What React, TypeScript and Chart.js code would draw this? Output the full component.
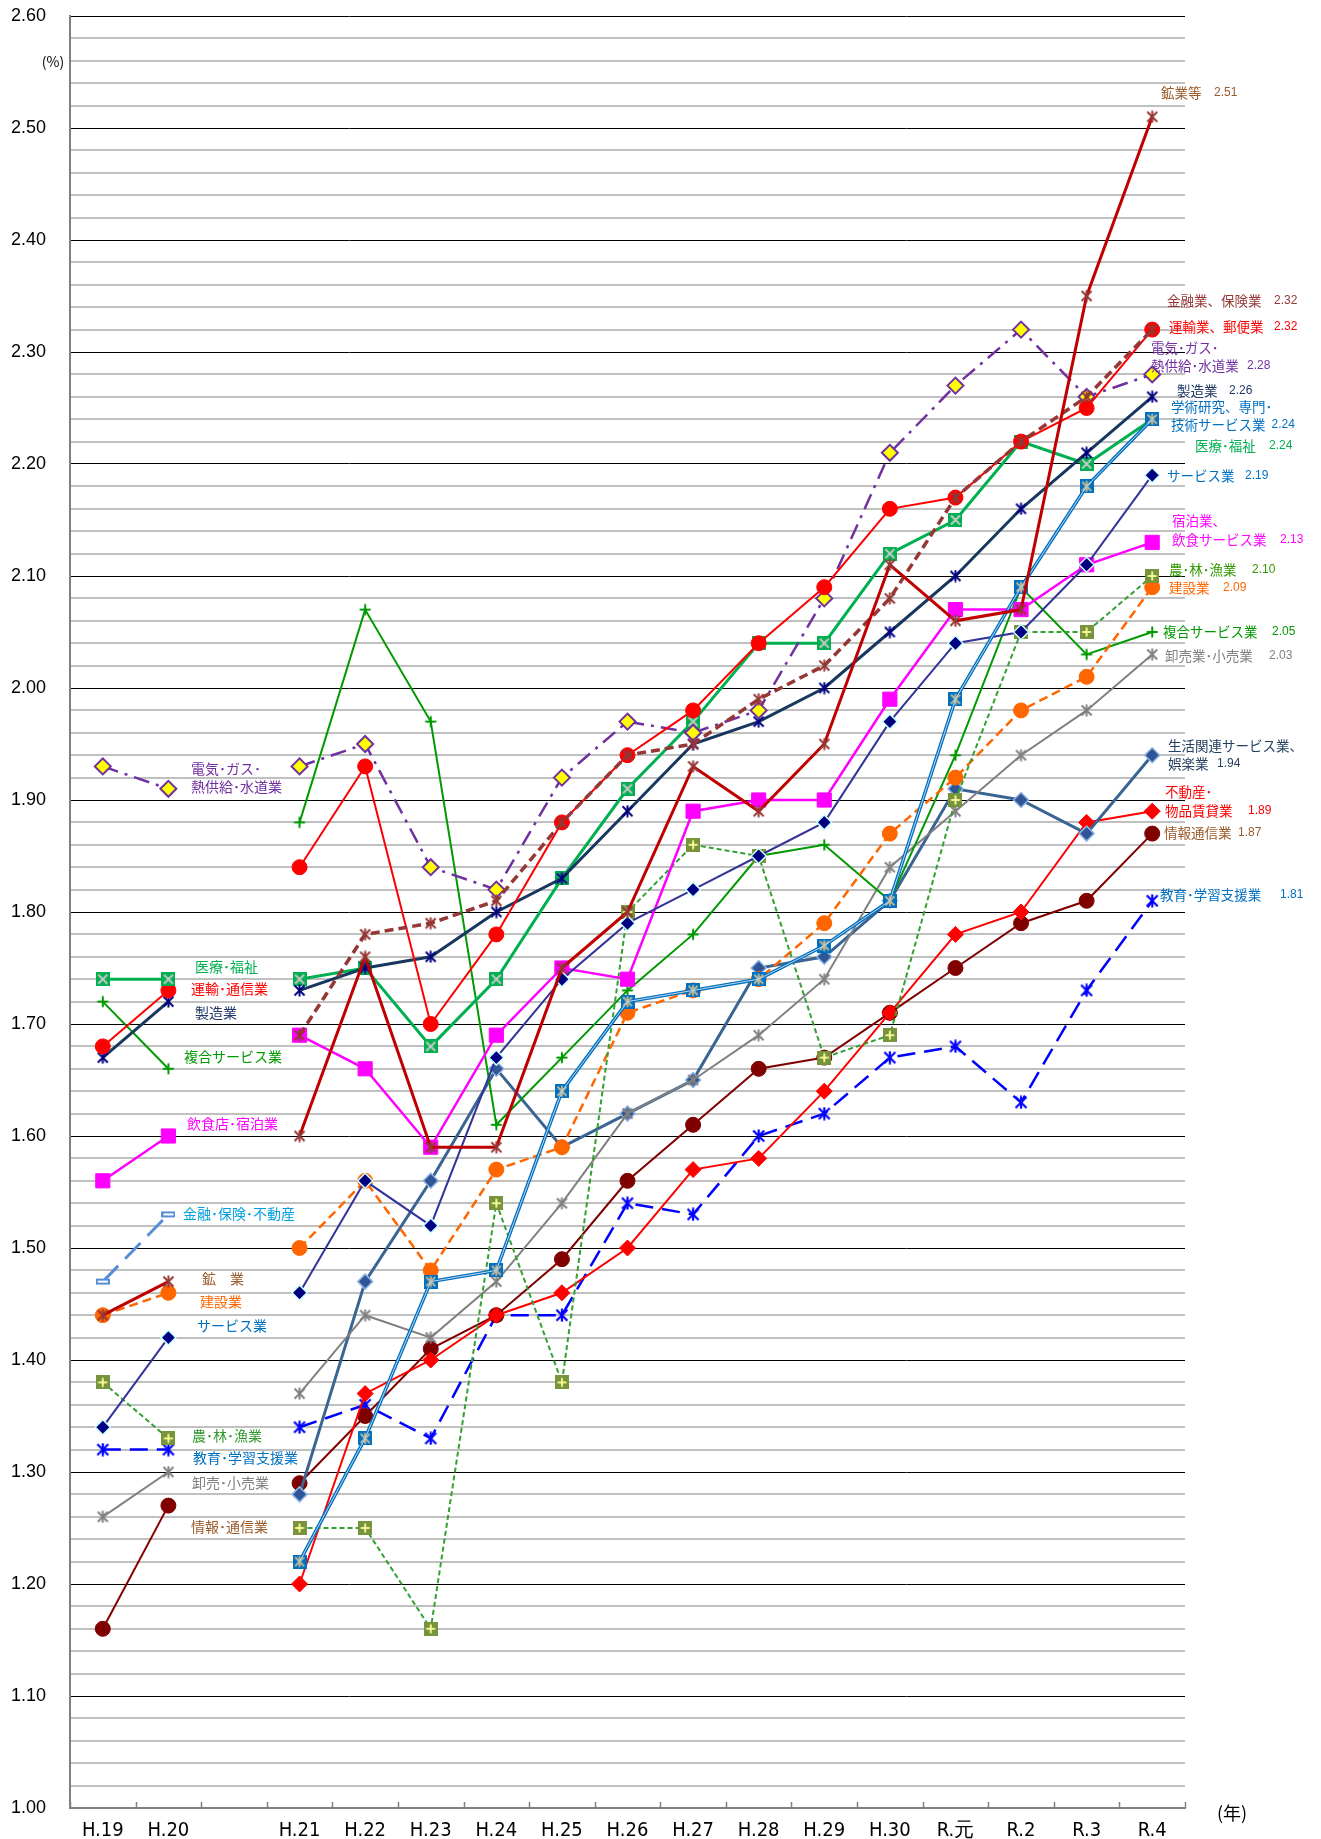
import React, { useEffect, useRef } from 'react';
import { Chart, registerables } from 'chart.js';

Chart.register(...registerables);

// ---------- categories ----------
const CATEGORIES = ['H.19', 'H.20', '', 'H.21', 'H.22', 'H.23', 'H.24', 'H.25', 'H.26', 'H.27', 'H.28', 'H.29', 'H.30', 'R.元', 'R.2', 'R.3', 'R.4'];
const NEW_START = 3;

// ---------- old classification (H.19, H.20) ----------
const ELEC_OLD = [1.93, 1.91];
const MED_OLD = [1.74, 1.74];
const TRANS_OLD = [1.68, 1.73];
const MANUF_OLD = [1.67, 1.72];
const COMP_OLD = [1.72, 1.66];
const REST_OLD = [1.56, 1.60];
const FIN_OLD = [1.47, 1.53];
const MINE_OLD = [1.44, 1.47];
const CONS_OLD = [1.44, 1.46];
const SERV_OLD = [1.34, 1.42];
const AGRI_OLD = [1.38, 1.33];
const EDU_OLD = [1.32, 1.32];
const WHOL_OLD = [1.26, 1.30];
const INFO_OLD = [1.16, 1.27];

// ---------- new classification (H.21 .. R.4) ----------
const MINE_NEW = [1.60, 1.76, 1.59, 1.59, 1.75, 1.80, 1.93, 1.89, 1.95, 2.11, 2.06, 2.07, 2.35, 2.51];
const FIN_NEW = [1.69, 1.78, 1.79, 1.81, 1.88, 1.94, 1.95, 1.99, 2.02, 2.08, 2.17, 2.22, 2.26, 2.32];
const TRANS_NEW = [1.84, 1.93, 1.70, 1.78, 1.88, 1.94, 1.98, 2.04, 2.09, 2.16, 2.17, 2.22, 2.25, 2.32];
const ELEC_NEW = [1.93, 1.95, 1.84, 1.82, 1.92, 1.97, 1.96, 1.98, 2.08, 2.21, 2.27, 2.32, 2.26, 2.28];
const MANUF_NEW = [1.73, 1.75, 1.76, 1.80, 1.83, 1.89, 1.95, 1.97, 2.00, 2.05, 2.10, 2.16, 2.21, 2.26];
const ACAD_NEW = [1.22, 1.33, 1.47, 1.48, 1.64, 1.72, 1.73, 1.74, 1.77, 1.81, 1.99, 2.09, 2.18, 2.24];
const MED_NEW = [1.74, 1.75, 1.68, 1.74, 1.83, 1.91, 1.97, 2.04, 2.04, 2.12, 2.15, 2.22, 2.20, 2.24];
const SERV_NEW = [1.46, 1.56, 1.52, 1.67, 1.74, 1.79, 1.82, 1.85, 1.88, 1.97, 2.04, 2.05, 2.11, 2.19];
const ACCOM_NEW = [1.69, 1.66, 1.59, 1.69, 1.75, 1.74, 1.89, 1.90, 1.90, 1.99, 2.07, 2.07, 2.11, 2.13];
const AGRI_NEW = [1.25, 1.25, 1.16, 1.54, 1.38, 1.80, 1.86, 1.85, 1.67, 1.69, 1.90, 2.05, 2.05, 2.10];
const CONS_NEW = [1.50, 1.56, 1.48, 1.57, 1.59, 1.71, 1.73, 1.74, 1.79, 1.87, 1.92, 1.98, 2.01, 2.09];
const COMP_NEW = [1.88, 2.07, 1.97, 1.61, 1.67, 1.73, 1.78, 1.85, 1.86, 1.81, 1.94, 2.09, 2.03, 2.05];
const WHOL_NEW = [1.37, 1.44, 1.42, 1.47, 1.54, 1.62, 1.65, 1.69, 1.74, 1.84, 1.89, 1.94, 1.98, 2.03];
const LIFE_NEW = [1.28, 1.47, 1.56, 1.66, 1.59, 1.62, 1.65, 1.75, 1.76, 1.81, 1.91, 1.90, 1.87, 1.94];
const REAL_NEW = [1.20, 1.37, 1.40, 1.44, 1.46, 1.50, 1.57, 1.58, 1.64, 1.71, 1.78, 1.80, 1.88, 1.89];
const INFO_NEW = [1.29, 1.35, 1.41, 1.44, 1.49, 1.56, 1.61, 1.66, 1.67, 1.71, 1.75, 1.79, 1.81, 1.87];
const EDU_NEW = [1.34, 1.36, 1.33, 1.44, 1.44, 1.54, 1.53, 1.60, 1.62, 1.67, 1.68, 1.63, 1.73, 1.81];

// ---------- y axis ----------
const Y_MIN = 1.0;
const Y_MAX = 2.6;
const Y_STEP = 0.02;

const last = (a: number[]) => a[a.length - 1].toFixed(2);

// ---------- text annotations (layout) ----------
const LEFT_LABELS = [
  { text: '電気･ガス･', color: '#7030A0', x: 191, y: 769 },
  { text: '熱供給･水道業', color: '#7030A0', x: 191, y: 787 },
  { text: '医療･福祉', color: '#00B050', x: 195, y: 967 },
  { text: '運輸･通信業', color: '#FF0000', x: 191, y: 989 },
  { text: '製造業', color: '#1F3864', x: 195, y: 1013 },
  { text: '複合サービス業', color: '#009900', x: 184, y: 1057 },
  { text: '飲食店･宿泊業', color: '#FF00FF', x: 187, y: 1124 },
  { text: '金融･保険･不動産', color: '#00A0E0', x: 183, y: 1214 },
  { text: '鉱　業', color: '#9A5B2B', x: 202, y: 1279 },
  { text: '建設業', color: '#FF6600', x: 200, y: 1302 },
  { text: 'サービス業', color: '#0070C0', x: 197, y: 1326 },
  { text: '農･林･漁業', color: '#339933', x: 192, y: 1436 },
  { text: '教育･学習支援業', color: '#0070C0', x: 193, y: 1458 },
  { text: '卸売･小売業', color: '#808080', x: 192, y: 1483 },
  { text: '情報･通信業', color: '#9A5B2B', x: 191, y: 1527 },
];

const RIGHT_LABELS = [
  { text: '鉱業等', value: last(MINE_NEW), color: '#9A5B2B', x: 1161, vx: 1214, y: 93 },
  { text: '金融業、保険業', value: last(FIN_NEW), color: '#953735', x: 1167, vx: 1274, y: 301 },
  { text: '運輸業、郵便業', value: last(TRANS_NEW), color: '#FF0000', x: 1169, vx: 1274, y: 327 },
  { text: '電気･ガス･', value: '', color: '#7030A0', x: 1151, vx: 0, y: 348 },
  { text: '熱供給･水道業', value: last(ELEC_NEW), color: '#7030A0', x: 1151, vx: 1247, y: 366 },
  { text: '製造業', value: last(MANUF_NEW), color: '#1F3864', x: 1177, vx: 1229, y: 391 },
  { text: '学術研究、専門･', value: '', color: '#0070C0', x: 1171, vx: 0, y: 407 },
  { text: '技術サービス業', value: last(ACAD_NEW), color: '#0070C0', x: 1171, vx: 1269, y: 425 },
  { text: '医療･福祉', value: last(MED_NEW), color: '#00B050', x: 1195, vx: 1269, y: 446 },
  { text: 'サービス業', value: last(SERV_NEW), color: '#0070C0', x: 1167, vx: 1245, y: 476 },
  { text: '宿泊業、', value: '', color: '#FF00FF', x: 1172, vx: 0, y: 521 },
  { text: '飲食サービス業', value: last(ACCOM_NEW), color: '#FF00FF', x: 1172, vx: 1280, y: 540 },
  { text: '農･林･漁業', value: last(AGRI_NEW), color: '#339900', x: 1169, vx: 1252, y: 570 },
  { text: '建設業', value: last(CONS_NEW), color: '#FF6600', x: 1169, vx: 1223, y: 588 },
  { text: '複合サービス業', value: last(COMP_NEW), color: '#009900', x: 1163, vx: 1272, y: 632 },
  { text: '卸売業･小売業', value: last(WHOL_NEW), color: '#808080', x: 1165, vx: 1269, y: 656 },
  { text: '生活関連サービス業、', value: '', color: '#243F60', x: 1168, vx: 0, y: 746 },
  { text: '娯楽業', value: last(LIFE_NEW), color: '#243F60', x: 1168, vx: 1217, y: 764 },
  { text: '不動産･', value: '', color: '#FF0000', x: 1165, vx: 0, y: 792 },
  { text: '物品賃貸業', value: last(REAL_NEW), color: '#FF0000', x: 1165, vx: 1248, y: 811 },
  { text: '情報通信業', value: last(INFO_NEW), color: '#9A5B2B', x: 1164, vx: 1238, y: 833 },
  { text: '教育･学習支援業', value: last(EDU_NEW), color: '#0070C0', x: 1160, vx: 1280, y: 895 },
];

const JP_FONT = '"Noto Sans CJK JP", "Noto Sans", sans-serif';
const NUM_FONT = '"Liberation Sans", Arial, sans-serif';
const AXIS_X_FONT = '"Liberation Sans Narrow", "DejaVu Sans Condensed", "Liberation Sans", sans-serif';

function makeMarker(kind: string, size: number, fill: string, ink: string, lw = 2): HTMLCanvasElement {
  const c = document.createElement('canvas');
  c.width = size;
  c.height = size;
  const g = c.getContext('2d')!;
  const s = size;
  const m = s / 2;
  const line = (x1: number, y1: number, x2: number, y2: number) => {
    g.beginPath();
    g.moveTo(x1, y1);
    g.lineTo(x2, y2);
    g.stroke();
  };
  g.strokeStyle = ink;
  g.lineWidth = lw;
  if (kind.startsWith('sq')) {
    g.fillStyle = fill;
    g.fillRect(0, 0, s, s);
  }
  const p = kind.startsWith('sq') ? 2.5 : 1.5;
  if (kind === 'ast' || kind === 'sqAst') {
    line(p, p, s - p, s - p);
    line(s - p, p, p, s - p);
    line(m, p - 1, m, s - p + 1);
  } else if (kind === 'sqX') {
    line(p, p, s - p, s - p);
    line(s - p, p, p, s - p);
  } else if (kind === 'sqPlus' || kind === 'plus') {
    line(m, p, m, s - p);
    line(p, m, s - p, m);
  } else if (kind === 'dash') {
    g.fillStyle = fill;
    g.fillRect(0, m - 3, s, 6);
    g.fillStyle = '#ffffff';
    g.fillRect(2, m - 1, s - 4, 2);
  }
  return c;
}

const oldData = (v: number[]) => CATEGORIES.map((_, i) => (i < v.length ? v[i] : null));
const newData = (v: number[]) => CATEGORIES.map((_, i) => (i >= NEW_START ? v[i - NEW_START] : null));

export default function App() {
  const ref = useRef<HTMLCanvasElement>(null);

  useEffect(() => {
    const canvas = ref.current;
    if (!canvas) return;

    const mk = {
      mine: makeMarker('ast', 13, '', '#953735', 2),
      manuf: makeMarker('ast', 13, '', '#000080', 2),
      edu: makeMarker('ast', 14, '', '#0000FF', 2.2),
      whol: makeMarker('ast', 13, '', '#808080', 2),
      med: makeMarker('sqX', 14, '#00B050', '#C8C8C8', 2),
      acad: makeMarker('sqAst', 14, '#0070C0', '#C4BD97', 1.8),
      agri: makeMarker('sqPlus', 14, '#77933C', '#FFFF99', 1.8),
      comp: makeMarker('plus', 14, '', '#009900', 2),
      finOld: makeMarker('dash', 14, '#558ED5', '#558ED5'),
    };

    type Opt = {
      color: string; width?: number; dash?: number[]; ps: any; r?: number;
      bg?: string; pb?: string; pbw?: number;
    };
    const ds = (label: string, data: (number | null)[], o: Opt) => ({
      label,
      data,
      borderColor: o.color,
      backgroundColor: o.bg ?? o.color,
      borderWidth: o.width ?? 2,
      borderDash: o.dash ?? [],
      pointStyle: o.ps,
      pointRadius: o.r ?? 7,
      pointHoverRadius: o.r ?? 7,
      pointBackgroundColor: o.bg ?? o.color,
      pointBorderColor: o.pb ?? o.color,
      pointBorderWidth: o.pbw ?? 1,
      tension: 0,
      spanGaps: false,
      fill: false,
    });

    const ELEC_STYLE: Opt = { color: '#7030A0', width: 2.5, dash: [16, 7, 3, 7], ps: 'rectRot', r: 8, bg: '#FFFF00', pb: '#7030A0', pbw: 2 };
    const SERV_STYLE: Opt = { color: '#333399', width: 2, ps: 'rectRot', r: 7.5, bg: '#000080', pb: '#CCFFFF', pbw: 1.5 };

    const datasets: any[] = [
      // new classification
      ds('鉱業、採石業、砂利採取業', newData(MINE_NEW), { color: '#C00000', width: 3, ps: mk.mine }),
      ds('金融業、保険業', newData(FIN_NEW), { color: '#953735', width: 3.5, dash: [9, 5], ps: mk.mine }),
      ds('運輸業、郵便業', newData(TRANS_NEW), { color: '#FF0000', width: 2, ps: 'circle', r: 7.5 }),
      ds('電気・ガス・熱供給・水道業', newData(ELEC_NEW), ELEC_STYLE),
      ds('製造業', newData(MANUF_NEW), { color: '#17375E', width: 3, ps: mk.manuf }),
      ds('学術研究、専門・技術サービス業 (inner)', newData(ACAD_NEW), { color: '#BDD7EE', width: 1, ps: 'circle', r: 0 }),
      ds('学術研究、専門・技術サービス業', newData(ACAD_NEW), { color: '#0070C0', width: 3.5, ps: mk.acad }),
      ds('医療、福祉', newData(MED_NEW), { color: '#00B050', width: 3, ps: mk.med }),
      ds('サービス業（他に分類されないもの）', newData(SERV_NEW), SERV_STYLE),
      ds('宿泊業、飲食サービス業', newData(ACCOM_NEW), { color: '#FF00FF', width: 2.5, ps: 'rect', r: 10 }),
      ds('農業、林業、漁業', newData(AGRI_NEW), { color: '#33A033', width: 2, dash: [5, 3], ps: mk.agri }),
      ds('建設業', newData(CONS_NEW), { color: '#FF6600', width: 2.5, dash: [9, 5], ps: 'circle', r: 7.5 }),
      ds('複合サービス事業', newData(COMP_NEW), { color: '#009900', width: 2, ps: mk.comp }),
      ds('卸売業、小売業', newData(WHOL_NEW), { color: '#808080', width: 2, ps: mk.whol }),
      ds('生活関連サービス業、娯楽業', newData(LIFE_NEW), { color: '#3A6491', width: 3, ps: 'rectRot', r: 7.5, bg: '#2F5597', pb: '#8DB4E2', pbw: 1.5 }),
      ds('不動産業、物品賃貸業', newData(REAL_NEW), { color: '#FF0000', width: 2, ps: 'rectRot', r: 8 }),
      ds('情報通信業', newData(INFO_NEW), { color: '#800000', width: 2, ps: 'circle', r: 7.5 }),
      ds('教育、学習支援業', newData(EDU_NEW), { color: '#0000FF', width: 2.5, dash: [18, 9], ps: mk.edu }),
      // old classification
      ds('電気・ガス・熱供給・水道業(旧)', oldData(ELEC_OLD), ELEC_STYLE),
      ds('医療・福祉(旧)', oldData(MED_OLD), { color: '#00B050', width: 3, ps: mk.med }),
      ds('運輸・通信業(旧)', oldData(TRANS_OLD), { color: '#FF0000', width: 2, ps: 'circle', r: 7.5 }),
      ds('製造業(旧)', oldData(MANUF_OLD), { color: '#17375E', width: 3, ps: mk.manuf }),
      ds('複合サービス事業(旧)', oldData(COMP_OLD), { color: '#009900', width: 2, ps: mk.comp }),
      ds('飲食店・宿泊業(旧)', oldData(REST_OLD), { color: '#FF00FF', width: 2.5, ps: 'rect', r: 10 }),
      ds('金融・保険・不動産(旧)', oldData(FIN_OLD), { color: '#558ED5', width: 3, dash: [22, 10], ps: mk.finOld }),
      ds('鉱業(旧)', oldData(MINE_OLD), { color: '#C00000', width: 3, ps: mk.mine }),
      ds('建設業(旧)', oldData(CONS_OLD), { color: '#FF6600', width: 2.5, dash: [9, 5], ps: 'circle', r: 7.5 }),
      ds('サービス業(旧)', oldData(SERV_OLD), SERV_STYLE),
      ds('農・林・漁業(旧)', oldData(AGRI_OLD), { color: '#33A033', width: 2, dash: [5, 3], ps: mk.agri }),
      ds('教育・学習支援業(旧)', oldData(EDU_OLD), { color: '#0000FF', width: 2.5, dash: [18, 9], ps: mk.edu }),
      ds('卸売・小売業(旧)', oldData(WHOL_OLD), { color: '#808080', width: 2, ps: mk.whol }),
      ds('情報・通信業(旧)', oldData(INFO_OLD), { color: '#800000', width: 2, ps: 'circle', r: 7.5 }),
    ];

    const isMajor = (v: number) => Math.abs(v * 10 - Math.round(v * 10)) < 1e-6;

    const annotations = {
      id: 'annotations',
      afterDraw(chart: any) {
        const g = chart.ctx as CanvasRenderingContext2D;
        const xs = chart.scales.x;
        const area = chart.chartArea;
        g.save();
        // inward tick marks on x axis at category boundaries
        g.strokeStyle = '#808080';
        g.lineWidth = 1.5;
        const n = CATEGORIES.length;
        for (let i = 0; i <= n; i++) {
          const x = Math.round(xs.left + (i * (xs.right - xs.left)) / n) + 0.5;
          g.beginPath();
          g.moveTo(x, area.bottom - 6);
          g.lineTo(x, area.bottom);
          g.stroke();
        }
        g.textBaseline = 'middle';
        g.textAlign = 'left';
        for (const l of LEFT_LABELS) {
          g.font = `14px ${JP_FONT}`;
          g.fillStyle = l.color;
          g.fillText(l.text, l.x, l.y);
        }
        for (const l of RIGHT_LABELS) {
          g.font = `13.5px ${JP_FONT}`;
          g.fillStyle = l.color;
          g.fillText(l.text, l.x, l.y);
          if (l.value) {
            const end = l.x + g.measureText(l.text).width + 6;
            g.font = `12px ${NUM_FONT}`;
            g.fillText(l.value, Math.max(l.vx, end), l.y);
          }
        }
        // units
        g.fillStyle = '#000';
        g.font = `14px ${JP_FONT}`;
        g.textAlign = 'center';
        g.fillText('(%)', 53, 62);
        g.font = `18px ${JP_FONT}`;
        g.fillText('(年)', 1232, 1813);
        g.restore();
      },
    };

    const chart = new Chart(canvas, {
      type: 'line',
      data: { labels: CATEGORIES, datasets },
      options: {
        responsive: false,
        animation: false,
        devicePixelRatio: 1,
        layout: { padding: { left: 0, right: 136, top: 16, bottom: 0 } },
        plugins: {
          legend: { display: false },
          tooltip: { enabled: false },
        },
        scales: {
          x: {
            type: 'category',
            offset: true,
            grid: { display: false, drawTicks: false },
            border: { display: true, color: '#808080', width: 2 },
            ticks: {
              autoSkip: false,
              maxRotation: 0,
              minRotation: 0,
              padding: 11,
              color: '#000',
              font: { family: AXIS_X_FONT, size: 20 },
            },
            afterFit(scale: any) {
              scale.height = 31;
              scale.paddingLeft = 0;
              scale.paddingRight = 0;
            },
          },
          y: {
            type: 'linear',
            min: Y_MIN,
            max: Y_MAX,
            grid: {
              drawTicks: false,
              color: (ctx: any) => (isMajor(ctx.tick.value) ? '#000000' : '#C0C0C0'),
              lineWidth: (ctx: any) => (isMajor(ctx.tick.value) ? 1 : 2),
            },
            border: { display: true, color: '#808080', width: 2 },
            ticks: {
              stepSize: Y_STEP,
              autoSkip: false,
              padding: 24,
              color: '#000',
              font: { family: NUM_FONT, size: 18 },
              callback: (v: any) => (isMajor(Number(v)) ? Number(v).toFixed(2) : ''),
            },
            afterFit(scale: any) {
              scale.width = 70;
              scale.paddingTop = 0;
              scale.paddingBottom = 0;
            },
          },
        },
      },
      plugins: [annotations],
    });

    return () => chart.destroy();
  }, []);

  return (
    <div style={{ position: 'absolute', left: 0, top: 0, width: 1321, height: 1839, background: '#ffffff' }}>
      <canvas ref={ref} width={1321} height={1839} style={{ display: 'block' }} />
    </div>
  );
}
